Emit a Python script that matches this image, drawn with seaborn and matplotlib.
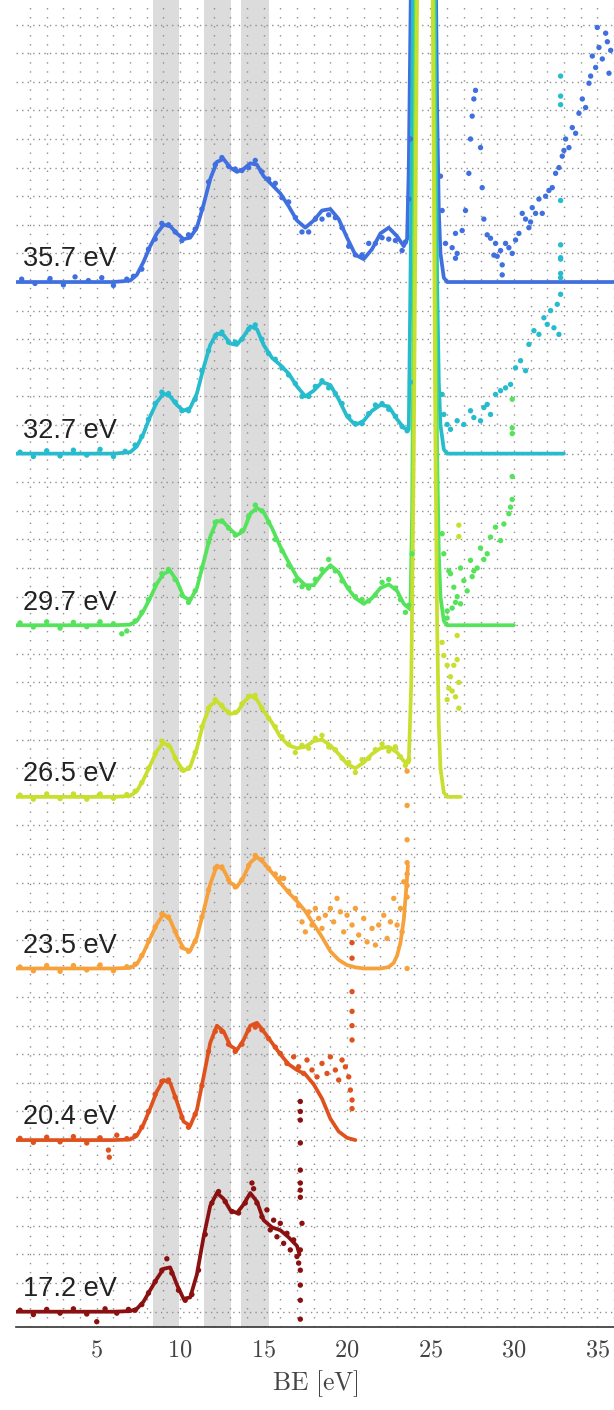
import matplotlib
matplotlib.use("Agg")
import matplotlib.pyplot as plt
from matplotlib.ticker import MultipleLocator, FuncFormatter
import pandas as pd
import seaborn as sns

# ---------------------------------------------------------------- data
photon_energies = [17.2, 20.4, 23.5, 26.5, 29.7, 32.7, 35.7]
colors = ["#8b1010", "#e0521d", "#f6a13b", "#c9df2f", "#55e35c", "#27bccd", "#4070df"]
offset_step = 6.0
bands = [(8.4, 9.9), (11.45, 13.05), (13.65, 15.35)]
x_ticks = [5, 10, 15, 20, 25, 30, 35]

# binding-energy knots shared by every fit curve in the valence region
valence_be = [0.2, 1, 2, 3, 4, 5, 6, 7, 7.4, 7.8, 8.2, 8.6, 9.0, 9.4, 9.8, 10.2,
              10.6, 11.0, 11.4, 11.8, 12.2, 12.6, 13.0, 13.4, 13.8, 14.2, 14.6,
              15.0, 15.5, 16.0, 16.5, 17.0]

# fit curves (intensity above each spectrum's baseline)
fit_35_7 = [0, 0, 0, 0, 0, 0, 0, 0.05, 0.25, 0.7, 1.25, 1.7, 2.0, 1.95, 1.7, 1.5,
            1.55, 1.9, 2.7, 3.6, 4.2, 4.3, 4.0, 3.85, 3.95, 4.15, 4.1, 3.7, 3.4,
            3.1, 2.65, 2.15]
tail_be_35_7 = [17.5, 18.0, 18.5, 19.0, 19.5, 20.0, 20.5, 21.0, 21.5, 22.0, 22.5,
                23.0, 23.4, 23.6, 23.7, 23.8, 23.9, 24.0, 24.2, 24.4, 24.6, 24.8,
                25.0, 25.2, 25.3, 25.4, 25.5, 25.6, 25.8, 26.0, 36.0]
tail_35_7 = [1.9, 2.15, 2.5, 2.55, 2.2, 1.55, 0.95, 0.8, 1.15, 1.7, 1.9, 1.6, 1.25,
             1.5, 4, 9, 14, 19, 28, 45, 70, 60, 40, 22, 12, 6, 2.5, 1.0, 0.15, 0, 0]

fit_32_7 = [0, 0, 0, 0, 0, 0, 0, 0.05, 0.25, 0.7, 1.3, 1.8, 2.1, 2.0, 1.7, 1.5, 1.6,
            2.1, 3.0, 3.8, 4.2, 4.15, 3.85, 3.8, 4.1, 4.45, 4.35, 3.8, 3.35, 3.1,
            2.8, 2.35]
tail_be_32_7 = [17.5, 18.0, 18.5, 19.0, 19.5, 20.0, 20.5, 21.0, 21.5, 22.0, 22.5,
                23.0, 23.4, 23.7, 23.8, 23.9, 24.0, 24.2, 24.4, 24.6, 24.8, 25.0,
                25.2, 25.3, 25.4, 25.5, 25.6, 25.8, 26.0, 33.0]
tail_32_7 = [2.0, 2.2, 2.5, 2.4, 1.9, 1.3, 1.0, 1.15, 1.5, 1.7, 1.65, 1.2, 0.9, 0.85,
             6, 12, 19, 28, 45, 70, 60, 40, 22, 12, 6, 2.5, 1.0, 0.15, 0, 0]

fit_29_7 = [0, 0, 0, 0, 0, 0, 0, 0.02, 0.15, 0.5, 0.95, 1.45, 1.8, 1.9, 1.55, 1.0,
            0.87, 1.3, 2.2, 3.1, 3.65, 3.6, 3.35, 3.15, 3.3, 3.9, 4.1, 3.95, 3.4,
            2.75, 2.2, 1.68]
tail_be_29_7 = [17.5, 18.0, 18.5, 19.0, 19.5, 20.0, 20.5, 21.0, 21.5, 22.0, 22.5,
                23.0, 23.4, 23.8, 23.9, 24.0, 24.2, 24.4, 24.6, 24.8, 25.0, 25.2,
                25.3, 25.4, 25.5, 25.6, 25.8, 26.0, 30.0]
tail_29_7 = [1.4, 1.4, 1.8, 2.1, 1.85, 1.33, 0.95, 0.75, 0.95, 1.3, 1.43, 1.2, 0.75,
             0.55, 4, 12, 28, 45, 70, 60, 40, 22, 12, 6, 2.5, 1.0, 0.15, 0, 0]

fit_26_5 = [0, 0, 0, 0, 0, 0, 0, 0.03, 0.2, 0.6, 1.1, 1.6, 1.9, 1.75, 1.25, 0.9,
            1.05, 1.7, 2.6, 3.2, 3.35, 3.1, 2.9, 2.95, 3.3, 3.55, 3.4, 3.0, 2.6,
            2.1, 1.8, 1.7]
tail_be_26_5 = [17.5, 18.0, 18.5, 19.0, 19.5, 20.0, 20.5, 21.0, 21.5, 22.0, 22.5,
                23.0, 23.4, 23.7, 23.85, 24.0, 24.2, 24.4, 24.6, 24.8, 25.0, 25.2,
                25.3, 25.4, 25.5, 25.6, 25.8, 26.0, 26.8]
tail_26_5 = [1.75, 1.95, 2.0, 1.8, 1.5, 1.15, 1.0, 1.2, 1.5, 1.7, 1.75, 1.55, 1.25,
             1.2, 4, 12, 28, 45, 70, 60, 40, 22, 12, 6, 2.5, 1.0, 0.15, 0, 0]

fit_23_5 = [0, 0, 0, 0, 0, 0, 0, 0.02, 0.15, 0.55, 1.05, 1.55, 1.9, 1.7, 1.15, 0.7,
            0.62, 1.1, 2.0, 2.95, 3.6, 3.45, 3.0, 2.85, 3.2, 3.7, 3.9, 3.7, 3.35,
            3.0, 2.65, 2.35]
tail_be_23_5 = [17.5, 18.0, 18.5, 19.0, 19.5, 20.0, 20.5, 21.0, 21.5, 22.0, 22.5,
                22.8, 23.0, 23.2, 23.4, 23.55, 23.65]
tail_23_5 = [2.0, 1.55, 1.1, 0.6, 0.3, 0.12, 0.04, 0.0, 0.0, 0.0, 0.05, 0.2, 0.45,
             0.9, 1.7, 2.8, 3.6]

fit_20_4 = [0, 0, 0, 0, 0, 0, 0, 0.02, 0.15, 0.55, 1.1, 1.7, 2.1, 2.0, 1.35, 0.65,
            0.5, 1.05, 2.2, 3.4, 4.0, 3.8, 3.3, 3.15, 3.5, 4.0, 4.1, 3.8, 3.4, 3.0,
            2.65, 2.45]
tail_be_20_4 = [17.5, 18.0, 18.5, 19.0, 19.5, 20.0, 20.5]
tail_20_4 = [2.3, 1.95, 1.45, 0.75, 0.3, 0.08, 0.0]

fit_17_2 = [0, 0, 0, 0, 0, 0, 0, 0.02, 0.1, 0.35, 0.75, 1.15, 1.5, 1.55, 0.95, 0.45,
            0.5, 1.3, 2.6, 3.7, 4.15, 3.95, 3.55, 3.45, 3.75, 4.15, 3.85, 3.2, 2.95,
            2.85, 2.6, 2.3]
tail_be_17_2 = [17.15]
tail_17_2 = [2.0]

# measured points
pts_be_35_7 = [0.5, 1.3, 2.2, 3.0, 3.7, 4.5, 5.3, 6.0, 6.8, 7.2,
               7.7, 8.1, 8.5, 8.9, 9.3, 9.7, 10.1, 10.5, 10.9, 11.3, 11.7, 12.1,
               12.5, 12.9, 13.3, 13.7, 14.1, 14.5, 14.9, 15.3, 15.7, 16.1, 16.5,
               16.9, 17.3, 17.7, 18.1, 18.5, 18.9, 19.3, 19.7, 20.1, 20.5, 20.9,
               21.3, 21.7, 22.1, 22.5, 22.9, 23.3, 23.5, 23.7, 23.8,
               25.6, 25.7, 25.9, 26.3, 26.5, 26.6, 26.5, 26.9, 27.1, 27.3, 27.4,
               27.5, 27.7, 27.6, 28.0, 28.1, 28.2, 28.4, 28.6, 28.8, 28.9, 29.2,
               29.3, 29.3, 29.5, 29.7, 29.9, 30.1, 30.3, 30.5, 30.7, 30.9, 31.1,
               31.3, 31.5, 31.7, 31.9, 32.1, 32.3, 32.5, 32.7, 32.9, 33.1, 33.3,
               33.5, 33.7, 33.9, 34.1, 34.3, 34.5, 34.7, 34.9, 35.1, 35.3, 35.5,
               35.7, 35.8, 35.0, 35.6, 34.6, 33.0, 31.0, 29.0]
pts_35_7 = [0.1, -0.05, 0.12, -0.1, 0.18, 0.05, 0.15, -0.12, 0.1, 0.2,
            0.45, 1.15, 1.5, 2.05, 2.0, 1.75, 1.45, 1.65, 1.85, 2.55, 3.5, 4.1,
            4.35, 4.05, 3.95, 3.9, 4.0, 4.25, 3.85, 3.6, 3.45, 2.95, 2.8,
            2.25, 1.75, 1.75, 2.2, 2.2, 2.35, 2.25, 1.9, 1.25, 0.95, 0.95,
            1.35, 1.35, 1.55, 1.5, 1.45, 1.1, 1.4, 2.9, 5.0,
            3.7, 2.5, 1.35, 1.2, 0.83, 1.0, 1.7, 1.8, 2.5, 3.8, 5.0,
            5.8, 6.7, 6.4, 4.7, 3.3, 2.2, 1.65, 1.53, 0.94, 1.35, 1.1,
            0.6, 0.25, 1.35, 1.2, 1.0, 1.47, 1.7, 2.4, 2.2, 1.9, 2.6,
            2.4, 2.9, 2.4, 3.0, 3.2, 3.3, 3.8, 4.0, 4.4, 5.0, 4.7,
            5.4, 5.2, 5.9, 6.4, 6.1, 6.95, 7.9, 7.5, 8.2, 7.8, 8.7,
            7.3, 8.1, 8.9, 8.4, 7.2, 4.6, 2.1, 0.9]

pts_be_32_7 = [0.4, 1.2, 2.0, 2.8, 3.6, 4.4, 5.2, 6.0, 6.7,
               7.3, 7.7, 8.1, 8.5, 8.9, 9.3, 9.7, 10.1, 10.5, 10.9, 11.3, 11.7,
               12.1, 12.5, 12.9, 13.3, 13.7, 14.1, 14.5, 14.9, 15.3, 15.7, 16.1,
               16.5, 16.9, 17.3, 17.7, 18.1, 18.5, 18.9, 19.3, 19.7, 20.1, 20.5,
               20.9, 21.3, 21.7, 22.1, 22.5, 22.9, 23.3, 23.6, 23.8,
               25.7, 25.8, 26.0, 26.2, 26.6, 27.0, 27.4, 27.6, 28.0, 28.2, 28.4,
               28.6, 28.9, 29.2, 29.5, 29.8, 30.1, 30.4, 30.7, 30.9, 31.2, 31.5,
               31.8, 32.0, 32.2, 32.4, 32.6, 32.8, 32.7,
               32.8, 32.8, 32.8, 32.8, 32.8, 32.8, 32.8, 32.8, 32.8]
pts_32_7 = [0.05, -0.1, 0.1, -0.08, 0.12, -0.05, 0.15, -0.1, 0.08,
            0.3, 0.6, 1.2, 1.75, 2.15, 2.1, 1.8, 1.5, 1.5, 1.9, 2.9, 3.6,
            4.1, 4.25, 3.9, 3.9, 4.0, 4.35, 4.5, 4.0, 3.5, 3.3, 3.0,
            2.75, 2.45, 2.0, 2.0, 2.35, 2.55, 2.3, 2.1, 1.75, 1.3, 1.05,
            1.05, 1.4, 1.7, 1.75, 1.55, 1.3, 0.95, 0.8, 2.5,
            2.07, 1.37, 1.02, 0.85, 1.15, 1.02, 1.5, 1.26, 1.15, 1.61, 1.72,
            1.37, 2.07, 2.2, 2.3, 2.42, 3.0, 3.25, 2.9, 3.82, 4.3, 4.17,
            4.75, 4.52, 5.0, 4.4, 5.22, 5.57, 4.17,
            13.2, 12.5, 12.2, 8.85, 7.3, 6.85, 6.8, 6.3, 6.15]

pts_be_29_7 = [0.4, 1.2, 2.0, 2.8, 3.6, 4.4, 5.2, 6.0, 6.5, 6.8,
               7.3, 7.7, 8.1, 8.5, 8.9, 9.3, 9.7, 10.1, 10.5, 10.9, 11.3, 11.7,
               12.1, 12.5, 12.9, 13.3, 13.7, 14.1, 14.5, 14.9, 15.3, 15.7, 16.1,
               16.5, 16.9, 17.3, 17.7, 18.1, 18.5, 18.9, 19.3, 19.7, 20.1, 20.5,
               20.9, 21.3, 21.7, 22.1, 22.5, 22.9, 23.2, 23.5, 23.7, 23.9,
               25.7, 25.8, 26.0, 26.1, 26.2, 26.4, 26.5, 26.8, 27.0, 27.2, 27.4,
               27.6, 27.8, 28.0, 28.2, 28.4, 28.6, 28.9, 29.2, 29.4, 29.7, 29.8,
               26.0, 26.3, 26.6, 26.8, 27.5,
               29.9, 29.9, 29.9, 29.9, 29.9]
pts_29_7 = [0.08, -0.06, 0.12, -0.1, 0.1, -0.05, 0.12, 0.05, -0.3, -0.2,
            0.15, 0.45, 0.9, 1.4, 1.8, 1.95, 1.6, 1.05, 0.8, 1.2, 2.0, 2.9,
            3.6, 3.65, 3.4, 3.15, 3.3, 3.8, 4.2, 4.0, 3.6, 3.0, 2.6,
            2.1, 1.55, 1.35, 1.3, 1.6, 1.95, 2.3, 1.9, 1.55, 1.3, 1.0,
            0.9, 0.85, 1.05, 1.5, 1.6, 1.3, 0.9, 0.45, 0.7, 2.5,
            3.2, 2.5, 0.5, 1.9, 1.8, 1.33, 0.8, 2.0, 1.56, 1.2, 2.27,
            1.9, 2.0, 2.7, 2.3, 2.5, 3.08, 3.43, 2.96, 3.54, 3.9, 4.13,
            0.25, 0.6, 1.0, 0.75, 1.7,
            7.9, 6.9, 6.7, 5.2, 4.4]

pts_be_26_5 = [0.4, 1.2, 2.0, 2.8, 3.6, 4.4, 5.2, 6.0, 6.8,
               7.3, 7.7, 8.1, 8.5, 8.9, 9.3, 9.7, 10.1, 10.5, 10.9, 11.3, 11.7,
               12.1, 12.5, 12.9, 13.3, 13.7, 14.1, 14.5, 14.9, 15.3, 15.7, 16.1,
               16.5, 16.9, 17.3, 17.7, 18.1, 18.5, 18.9, 19.3, 19.7, 20.1, 20.5,
               20.9, 21.3, 21.7, 22.1, 22.5, 22.9, 23.2, 23.5, 23.7,
               25.7, 25.8, 26.0, 26.2, 26.1, 26.4, 26.6, 26.7, 26.5, 26.7, 26.0,
               26.3, 26.6, 26.7, 26.7]
pts_26_5 = [0.06, -0.08, 0.1, -0.06, 0.1, -0.08, 0.1, -0.05, 0.08,
            0.2, 0.5, 1.0, 1.5, 1.95, 1.8, 1.35, 0.95, 1.0, 1.55, 2.45, 3.1,
            3.4, 3.2, 2.95, 2.95, 3.25, 3.5, 3.55, 3.1, 2.75, 2.45, 2.1,
            1.85, 1.55, 1.8, 1.7, 2.05, 2.15, 1.75, 1.65, 1.35, 1.2, 0.85,
            1.3, 1.35, 1.65, 1.85, 1.6, 1.75, 1.4, 1.1, 1.3,
            5.4, 4.94, 4.6, 4.2, 3.8, 4.6, 4.8, 4.0, 3.5, 3.1, 3.4,
            3.7, 5.64, 9.5, 9.1]

pts_be_23_5 = [0.4, 1.2, 2.0, 2.8, 3.6, 4.4, 5.2, 6.0, 6.8,
               7.3, 7.7, 8.1, 8.5, 8.9, 9.3, 9.7, 10.1, 10.5, 10.9, 11.3, 11.7,
               12.1, 12.5, 12.9, 13.3, 13.7, 14.1, 14.5, 14.9, 15.3, 15.7, 16.0,
               16.2, 16.5, 16.9, 17.1, 17.3, 17.5, 17.7, 17.9, 18.1, 18.3, 18.5,
               18.7, 19.0, 19.2, 19.4, 19.6, 19.8, 20.0, 20.3, 20.5, 20.7, 21.0,
               21.2, 21.5, 21.7, 21.9, 22.2, 22.4, 22.6, 22.8, 23.0, 23.2, 23.3,
               23.4,
               23.6, 23.6, 23.6, 23.6, 23.6, 23.6, 23.6, 23.6]
pts_23_5 = [0.05, -0.08, 0.1, -0.1, 0.1, -0.05, 0.12, -0.08, 0.06,
            0.15, 0.45, 0.95, 1.45, 1.9, 1.8, 1.3, 0.75, 0.6, 0.95, 1.8, 2.75,
            3.5, 3.55, 3.1, 2.85, 3.1, 3.6, 3.95, 3.8, 3.5, 3.3, 3.15,
            3.15, 2.7, 2.45, 2.2, 1.63, 1.28, 1.98, 1.52, 2.1, 1.75, 1.4,
            1.86, 2.1, 1.63, 2.45, 1.98, 1.28, 1.86, 1.52, 2.1, 1.17, 1.75,
            0.93, 1.4, 0.82, 1.52, 1.86, 1.05, 1.63, 2.45, 1.52, 2.1, 1.28,
            3.03,
            6.9, 5.7, 4.5, 3.7, 3.3, 2.9, 2.5, 0.0]

pts_be_20_4 = [0.4, 1.2, 2.0, 2.8, 3.6, 4.4, 5.2, 5.7, 5.75, 6.2, 6.8,
               7.3, 7.7, 8.1, 8.5, 8.9, 9.3, 9.7, 10.1, 10.5, 10.9, 11.3, 11.7,
               12.1, 12.5, 12.9, 13.3, 13.7, 14.1, 14.5, 14.9, 15.3, 15.7,
               16.0, 16.4, 16.8, 17.1, 17.4, 17.6, 17.9, 18.2, 18.5, 18.8, 19.0,
               19.3, 19.5, 19.7, 19.9, 20.1, 20.2, 20.3, 20.3,
               20.3, 20.3, 20.3, 20.3, 20.3, 20.3]
pts_20_4 = [0.06, -0.08, 0.1, -0.06, 0.12, -0.1, 0.08, -0.35, -0.6, 0.17, 0.05,
            0.15, 0.45, 1.0, 1.6, 2.05, 2.1, 1.5, 0.8, 0.45, 0.9, 1.9, 3.1,
            3.8, 3.8, 3.35, 3.1, 3.35, 3.85, 3.95, 3.85, 3.55, 3.25,
            3.03, 2.68, 2.91, 2.56, 2.33, 2.8, 2.45, 2.21, 2.68, 2.33, 2.91,
            2.45, 2.1, 2.8, 2.56, 2.21, 1.75, 1.4, 1.1,
            6.9, 6.36, 5.19, 4.5, 4.0, 3.5]

pts_be_17_2 = [0.4, 1.2, 2.0, 2.8, 3.6, 4.4, 5.0, 5.5, 6.2, 6.9,
               7.3, 7.7, 8.1, 8.5, 8.9, 9.2, 9.5, 9.9, 10.3, 10.7, 11.1, 11.5,
               11.9, 12.3, 12.7, 13.1, 13.5, 13.9, 14.3, 14.4,
               14.6, 14.9, 15.2, 15.4, 15.6, 15.8, 16.0, 16.2, 16.4, 16.6, 16.8,
               17.0, 17.2, 17.3, 17.1,
               17.2, 17.2, 17.2, 17.2, 17.2, 17.2, 17.2, 17.2, 17.2, 17.2, 17.2,
               17.2]
pts_17_2 = [0.05, -0.1, 0.08, -0.05, 0.1, -0.08, -0.35, 0.1, -0.05, 0.08,
            0.05, 0.25, 0.65, 1.05, 1.45, 1.85, 1.35, 0.75, 0.4, 0.6, 1.45, 2.7,
            3.8, 4.2, 3.85, 3.5, 3.45, 3.8, 4.5, 4.3,
            3.8, 3.32, 3.56, 2.86, 3.2, 2.62, 3.09, 2.39, 2.74, 2.16, 2.51,
            1.93, 2.16, 3.09, 1.7,
            7.35, 7.0, 6.7, 5.9, 4.95, 4.5, 4.25, 4.0, 1.45, 0.93, 0.4,
            -0.26]

fit_values = {17.2: fit_17_2, 20.4: fit_20_4, 23.5: fit_23_5, 26.5: fit_26_5,
              29.7: fit_29_7, 32.7: fit_32_7, 35.7: fit_35_7}
fit_tails = {17.2: (tail_be_17_2, tail_17_2), 20.4: (tail_be_20_4, tail_20_4),
             23.5: (tail_be_23_5, tail_23_5), 26.5: (tail_be_26_5, tail_26_5),
             29.7: (tail_be_29_7, tail_29_7), 32.7: (tail_be_32_7, tail_32_7),
             35.7: (tail_be_35_7, tail_35_7)}
points = {17.2: (pts_be_17_2, pts_17_2), 20.4: (pts_be_20_4, pts_20_4),
          23.5: (pts_be_23_5, pts_23_5), 26.5: (pts_be_26_5, pts_26_5),
          29.7: (pts_be_29_7, pts_29_7), 32.7: (pts_be_32_7, pts_32_7),
          35.7: (pts_be_35_7, pts_35_7)}

# ------------------------------------------------------- long-form tables
fit_rows, pt_rows = [], []
for i, hv in enumerate(photon_energies):
    off = i * offset_step
    tb, tv = fit_tails[hv]
    for order, (b, v) in enumerate(zip(valence_be + tb, fit_values[hv] + tv)):
        fit_rows.append({"hv": hv, "order": order, "BE": b, "I": v + off})
    pb, pv = points[hv]
    for b, v in zip(pb, pv):
        pt_rows.append({"hv": hv, "BE": b, "I": v + off})
fit_df = pd.DataFrame(fit_rows)
pt_df = pd.DataFrame(pt_rows)

palette = dict(zip(photon_energies, colors))
draw_order = photon_energies[::-1]

# ---------------------------------------------------------------- figure
sns.set_theme(style="white")
plt.rcParams["font.family"] = ["Liberation Sans", "DejaVu Sans"]
plt.rcParams["mathtext.fontset"] = "cm"

fig = plt.figure(figsize=(6.14, 14.10), dpi=100)
ax = fig.add_axes([16 / 614, 1 - 1327 / 1410, 1 - 16 / 614, 1327 / 1410])
ax.set_axisbelow(True)

for lo, hi in bands:
    ax.axvspan(lo, hi, color="#dcdcdc", lw=0, zorder=0.3)

sns.lineplot(data=fit_df, x="BE", y="I", hue="hv", hue_order=draw_order,
             palette=palette, units="hv", estimator=None, sort=False,
             linewidth=2.7, legend=False, ax=ax, zorder=2)
sns.scatterplot(data=pt_df, x="BE", y="I", hue="hv", hue_order=draw_order,
                palette=palette, s=15, linewidth=0, legend=False, ax=ax,
                zorder=3)

for i, hv in enumerate(photon_energies):
    ax.text(0.58, i * offset_step + 0.55, f"{hv} eV", fontsize=19.5,
            color="#222222", ha="left", va="baseline", zorder=4)

ax.set_xlim(0.16, 36.0)
ax.set_ylim(-0.535, 45.86)

ax.set_xticks(x_ticks)
ax.xaxis.set_minor_locator(MultipleLocator(1))
ax.xaxis.set_major_formatter(FuncFormatter(lambda v, p: f"${v:g}$"))
ax.yaxis.set_major_locator(MultipleLocator(1))
ax.tick_params(axis="x", which="major", direction="in", length=14, width=1.1,
               color="#333333", labelsize=17.5, labelcolor="#444444", pad=9)
ax.tick_params(axis="x", which="minor", length=0)
ax.tick_params(axis="y", which="both", length=0, labelleft=False)

grid_kw = dict(color="#8e8e8e", linewidth=1.0)
ax.grid(which="both", axis="x", linestyle=(0, (1, 5.5)), **grid_kw)
ax.grid(which="major", axis="y", linestyle=(0, (1, 3)), **grid_kw)

for side in ("left", "top", "right"):
    ax.spines[side].set_visible(False)
ax.spines["bottom"].set_color("#333333")
ax.spines["bottom"].set_linewidth(1.2)

ax.set_xlabel(r"$\mathrm{BE\ [eV]}$", fontsize=18.5, color="#444444", labelpad=5)
ax.set_ylabel("")

fig.savefig("out.png", dpi=100)
